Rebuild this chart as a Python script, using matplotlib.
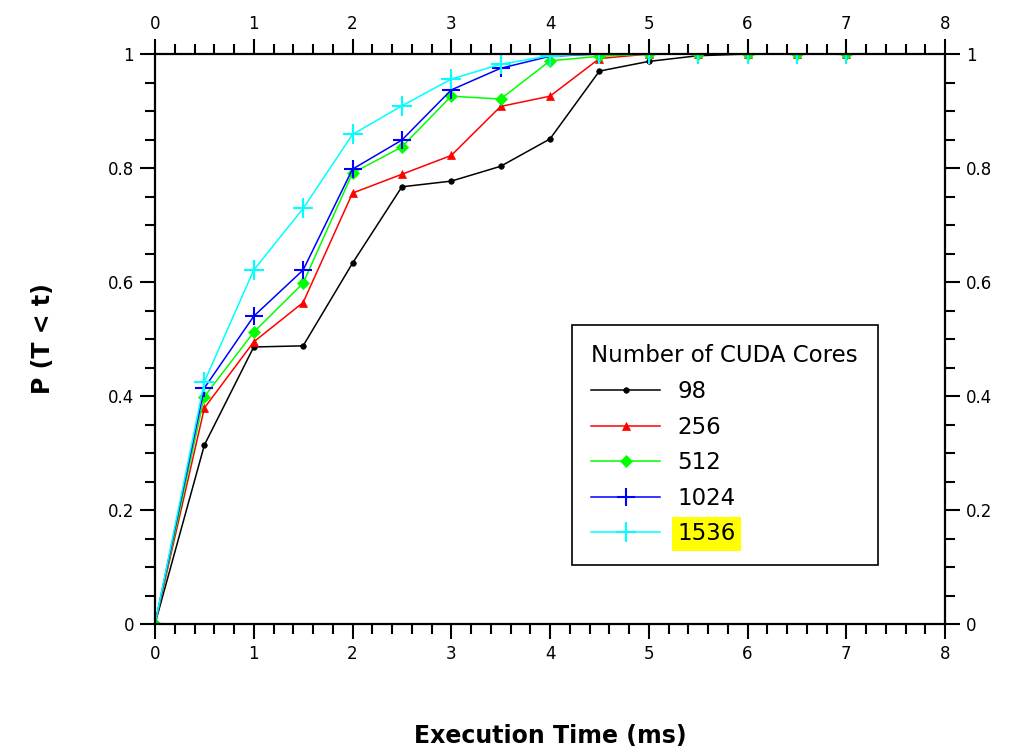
import matplotlib
matplotlib.use("Agg")
import matplotlib.pyplot as plt
from matplotlib.ticker import MultipleLocator

x_ms = [0, 0.5, 1, 1.5, 2, 2.5, 3, 3.5, 4, 4.5, 5, 5.5, 6, 6.5, 7]
cores_labels = ["98", "256", "512", "1024", "1536"]
p_98 = [0, 0.314, 0.486, 0.488, 0.633, 0.767, 0.777, 0.803, 0.851, 0.970, 0.987, 0.997, 1, 1, 1]
p_256 = [0, 0.379, 0.495, 0.564, 0.756, 0.789, 0.822, 0.908, 0.926, 0.992, 1, 1, 1, 1, 1]
p_512 = [0, 0.399, 0.512, 0.598, 0.791, 0.837, 0.926, 0.921, 0.988, 0.996, 1, 1, 1, 1, 1]
p_1024 = [0, 0.414, 0.540, 0.621, 0.798, 0.849, 0.937, 0.975, 0.996, 1, 1, 1, 1, 1, 1]
p_1536 = [0, 0.425, 0.621, 0.729, 0.859, 0.909, 0.956, 0.982, 0.997, 1, 1, 1, 1, 1, 1]

series = [p_98, p_256, p_512, p_1024, p_1536]
colors = ["black", "red", "#00ff00", "blue", "cyan"]
markers = ["o", "^", "D", "+", "+"]
msizes = [4, 6, 6, 13, 15]

plt.rcParams['font.family'] = ['DejaVu Sans']

fig = plt.figure(figsize=(10.12, 7.52), dpi=100)
ax = fig.add_axes([155/1012, 1-624/752, (945-155)/1012, (624-54)/752])

for ys, c, m, ms, lab in zip(series, colors, markers, msizes, cores_labels):
    ax.plot(x_ms, ys, color=c, marker=m, markersize=ms, lw=1.1,
            markeredgewidth=1.5 if m == "+" else 0.5, label=lab, clip_on=True)

ax.set_xlim(0, 8)
ax.set_ylim(0, 1)
ax.xaxis.set_major_locator(MultipleLocator(1))
ax.xaxis.set_minor_locator(MultipleLocator(0.2))
ax.yaxis.set_major_locator(MultipleLocator(0.2))
ax.yaxis.set_minor_locator(MultipleLocator(0.05))

def fmt(v, pos):
    s = f"{v:.1f}"
    return s[:-2] if s.endswith(".0") else s

ax.yaxis.set_major_formatter(plt.FuncFormatter(fmt))
ax.xaxis.set_major_formatter(plt.FuncFormatter(lambda v, p: f"{int(round(v))}"))

ax.tick_params(which='both', direction='out', top=True, right=True,
               labeltop=True, labelright=True, labelsize=12, width=1.5)
ax.tick_params(which='major', length=11, pad=4)
ax.tick_params(which='minor', length=7)
for s in ax.spines.values():
    s.set_linewidth(1.6)

ax.set_xlabel("Execution Time (ms)", fontsize=17, fontweight='bold', labelpad=44)
ax.set_ylabel("P (T < t)", fontsize=17, fontweight='bold', labelpad=38)

leg = ax.legend(title="Number of CUDA Cores", loc='upper left',
                bbox_to_anchor=(572/1012, 1-325/752), bbox_transform=fig.transFigure,
                borderaxespad=0,
                fontsize=16.5, title_fontsize=16.5, frameon=True, fancybox=False,
                edgecolor='black', framealpha=1, handlelength=3.0,
                labelspacing=0.55, borderpad=0.85, handletextpad=0.75)
leg.get_frame().set_linewidth(1.2)
leg._legend_box.align = "left"
txt = leg.get_texts()[-1]
txt.set_bbox(dict(facecolor='yellow', edgecolor='none', pad=4))

fig.savefig("out.png", dpi=100)
